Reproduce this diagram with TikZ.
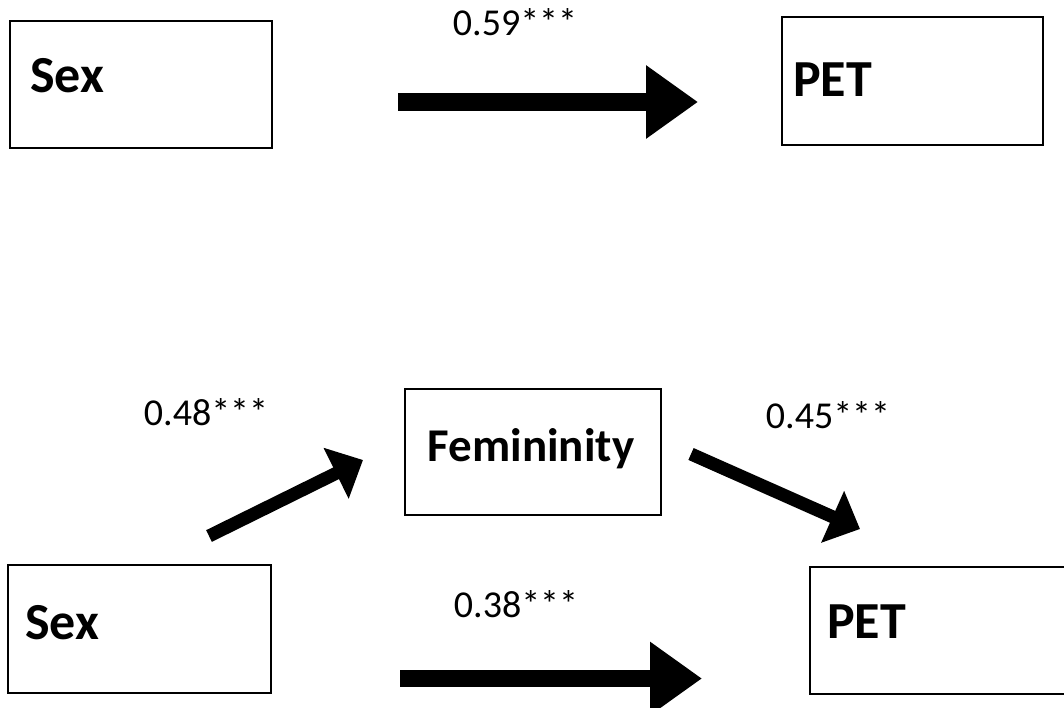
\documentclass[tikz,border=0pt]{standalone}
\usepackage{fontspec}
\setmainfont{Carlito}
\usetikzlibrary{arrows.meta}
\tikzset{
  x=1pt, y=-1pt,
  box/.style={draw=black, line width=1.1pt, rectangle, inner sep=0pt},
  varlabel/.style={font=\fontsize{52}{52}\selectfont\bfseries, inner sep=0pt, anchor=base west},
  coef/.style={font=\fontsize{38}{38}\selectfont, inner sep=0pt, anchor=base},
  bigarrow/.style={line width=17.5pt, -{Triangle[length=52pt,width=70pt]}},
  diagarrow/.style={line width=13pt, -{Triangle[length=30pt,width=55pt]}},
}
\begin{document}
\begin{tikzpicture}
\useasboundingbox (0,0) rectangle (1064,708);
% top model
\node[box, minimum width=262pt, minimum height=127pt] (sexA) at (141,84.5) {};
\node[box, minimum width=261pt, minimum height=128pt] (petA) at (912.5,81) {};
\node[varlabel] (sexAt) at (30,93) {Sex};
\node[varlabel] (petAt) at (793,97) {PET};
\coordinate (a1s) at (398,102);
\coordinate (a1e) at (698,102);
\draw[bigarrow] (a1s) -- (a1e);
\node[coef] (cA) at (515,36) {0.59***};
% bottom model
\node[box, minimum width=256pt, minimum height=126pt] (fem) at (533,452) {};
\node[varlabel, anchor=base, font=\fontsize{47}{47}\selectfont\bfseries] (femt) at (531,461) {Femininity};
\node[box, minimum width=263pt, minimum height=128pt] (sexB) at (139.5,629) {};
\node[box, minimum width=262pt, minimum height=127pt] (petB) at (941,630.5) {};
\node[varlabel] (sexBt) at (25,639) {Sex};
\node[varlabel] (petBt) at (827,638) {PET};
\coordinate (d1s) at (209,536);
\coordinate (d1e) at (363,460);
\draw[diagarrow] (d1s) -- (d1e);
\coordinate (d2s) at (691,454);
\coordinate (d2e) at (860,529);
\draw[diagarrow] (d2s) -- (d2e);
\coordinate (b1s) at (400,678.5);
\coordinate (b1e) at (702,678.5);
\draw[bigarrow] (b1s) -- (b1e);
\node[coef] (cB1) at (206,425) {0.48***};
\node[coef] (cB2) at (828,428) {0.45***};
\node[coef] (cB3) at (516,617) {0.38***};
\end{tikzpicture}
\end{document}
